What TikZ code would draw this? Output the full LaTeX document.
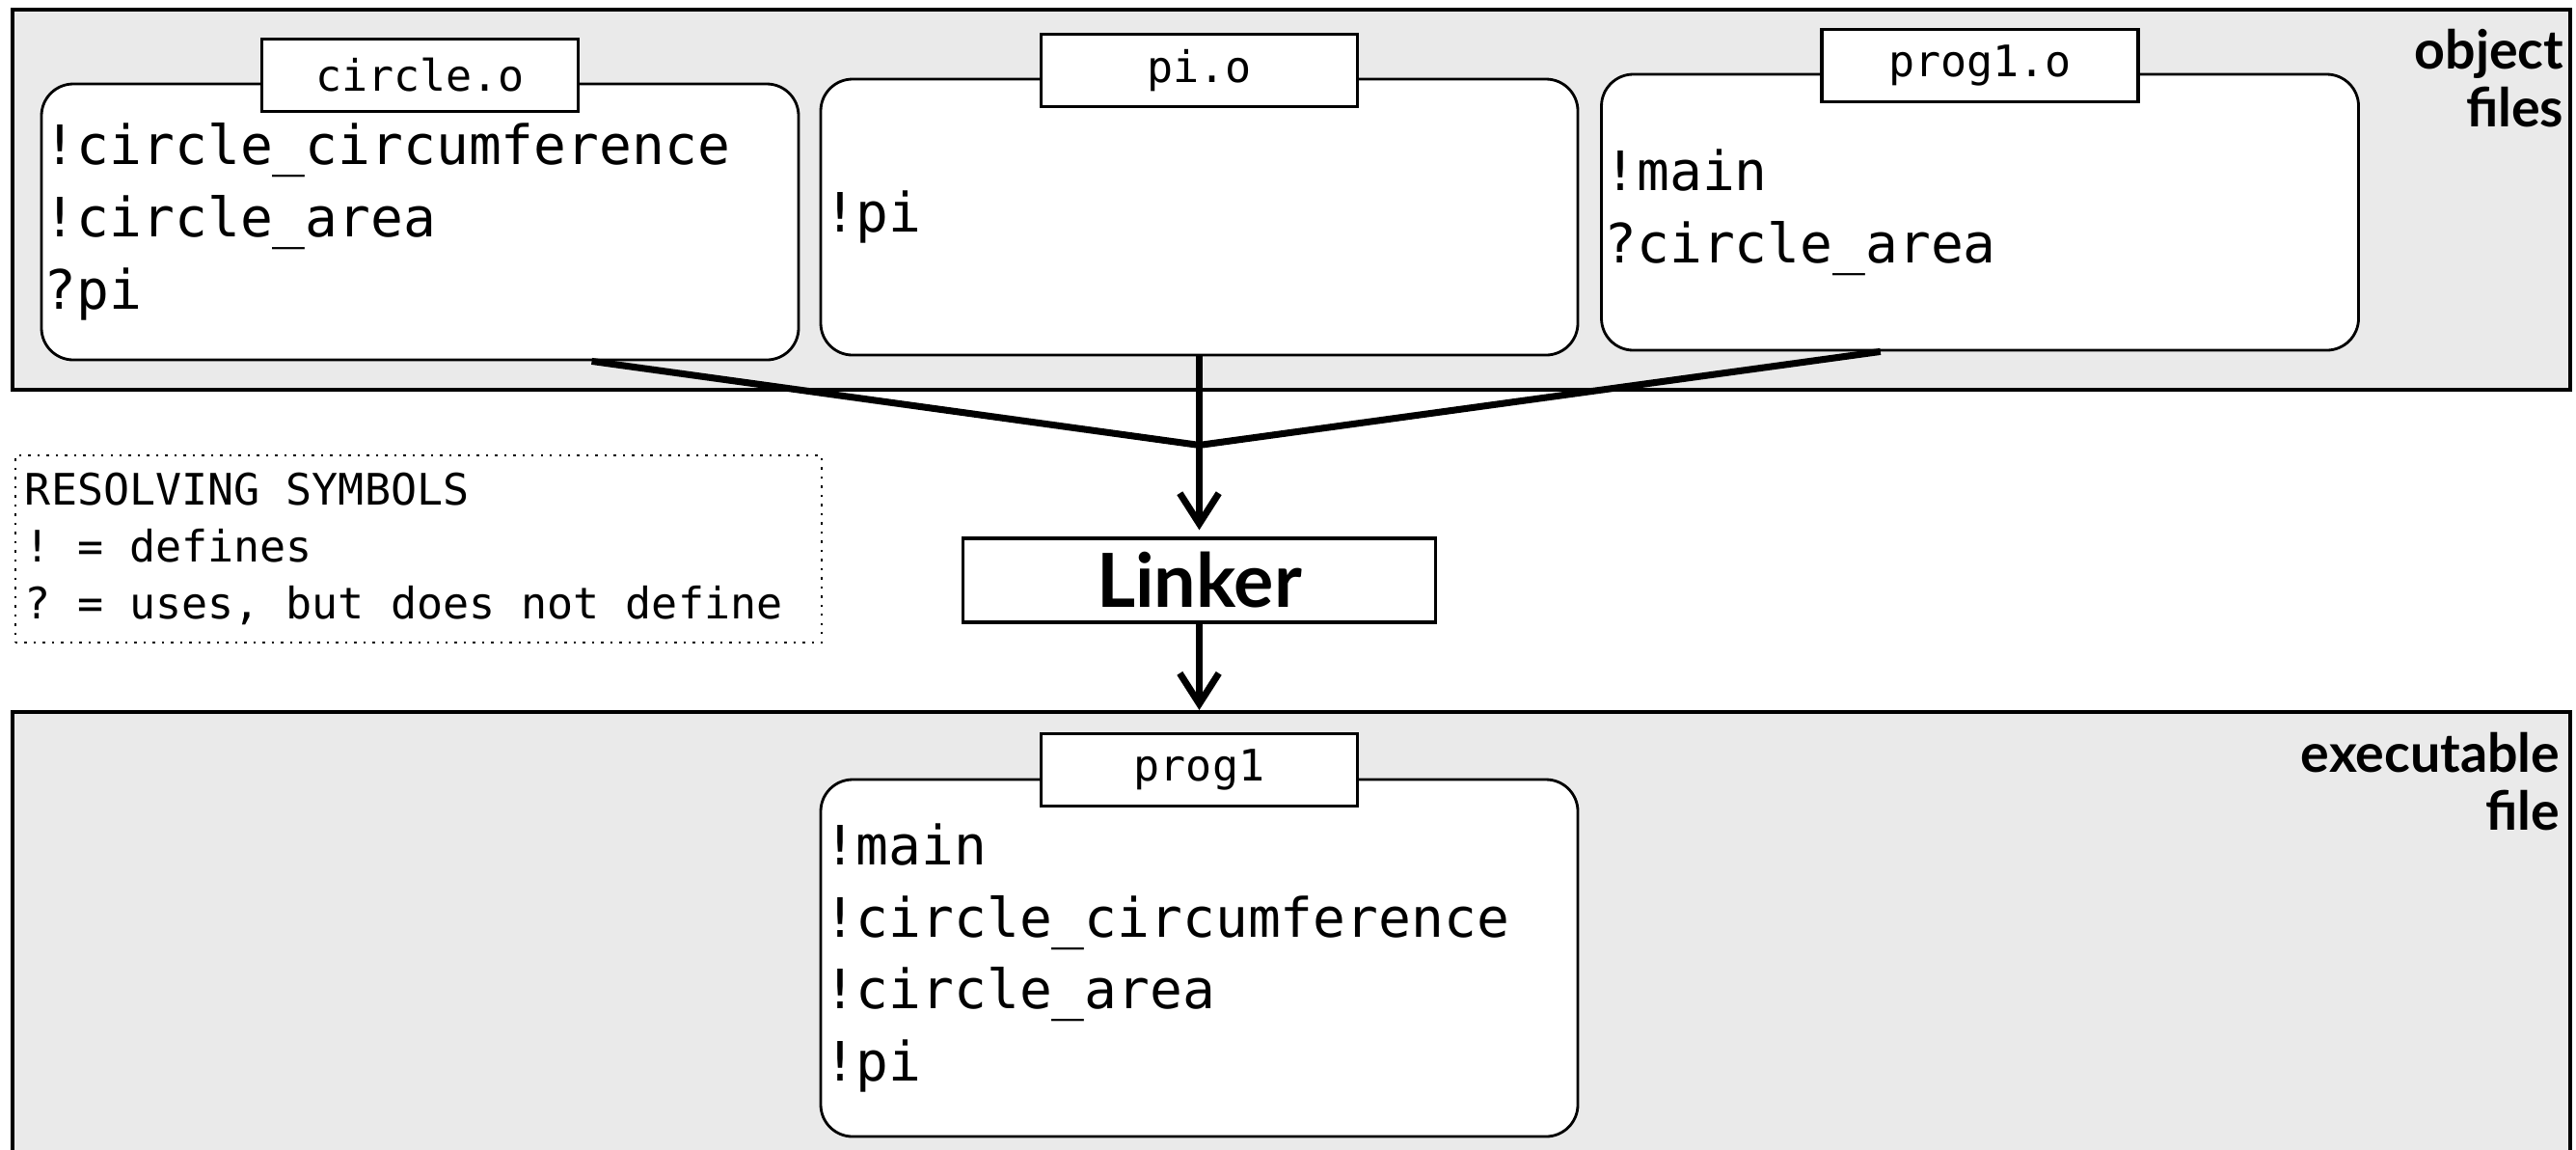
\documentclass[tikz,border=0pt]{standalone}
\usepackage{fontspec}
\setmonofont{DejaVu Sans Mono}
\setsansfont{Lato}
\usetikzlibrary{positioning, calc, arrows.meta}
\definecolor{panelgray}{RGB}{234,234,234}
\tikzset{
  panel/.style={draw, line width=0.9pt, fill=panelgray},
  objbox/.style={draw, fill=white, line width=0.8pt, rounded corners=0.33cm, align=flush left,
    text width=7.79cm, inner xsep=0.03cm, minimum height=2.86cm,
    font=\ttfamily\fontsize{16}{21.3}\selectfont},
  tab/.style={draw, fill=white, line width=0.9pt, minimum width=3.28cm, minimum height=0.75cm,
    inner sep=0pt, font=\ttfamily\fontsize{12.8}{15}\selectfont},
  feed/.style={line width=2pt},
  flow/.style={line width=2pt, -{Straight Barb[length=9pt,width=11.5pt]}},
  heading/.style={anchor=north east, align=right, inner sep=0pt,
    font=\sffamily\bfseries\fontsize{15.8}{16.9}\selectfont}
}

\begin{document}
\begin{tikzpicture}
\useasboundingbox (0,0) rectangle (26.71,-11.91);
% the two grey bands
\draw[panel] (0.13,-0.10) rectangle (26.65,-4.04);
\draw[panel] (0.13,-7.38) rectangle (26.65,-12.20);
\path (0,-7.36) coordinate (band2);
\node[heading] (objhead) at (26.59,-0.30) {object\\files};
\node[heading] (exehead) at (26.55,-7.59) {executable\\file};

% object files
\node[objbox] (circ) at (4.355,-2.30) {!circle\_circumference\\!circle\_area\\?pi};
\node[objbox] (pio)  at (12.435,-2.25) {!pi};
\node[objbox] (prgo) at (20.53,-2.20) {!main\\?circle\_area};
\node[tab, above=-0.315cm of circ.north] (circtab) {circle.o};
\node[tab, above=-0.315cm of pio.north] (piotab) {pi.o};
\node[tab, above=-0.315cm of prgo.north] (prgotab) {prog1.o};

% legend
\node[draw, dotted, line width=0.7pt, align=flush left, text width=8.16cm, inner xsep=0.1cm,
  minimum height=1.94cm, font=\ttfamily\fontsize{12.8}{16.7}\selectfont]
  (legend) at (4.34,-5.69) {RESOLVING SYMBOLS\\! = defines\\? = uses, but does not define};

% linker
\coordinate (join) at ($(pio.south)+(0,-0.92)$);
\coordinate (circout) at ($(circ.south west)!0.726!(circ.south east)$);
\coordinate (prgout) at ($(prgo.south west)!0.369!(prgo.south east)$);
\node[draw, fill=white, line width=0.9pt, minimum width=4.9cm, minimum height=0.87cm,
  font=\sffamily\bfseries\fontsize{22}{22}\selectfont, below=0.95cm of join] (lnk) {Linker};
\draw[feed] (circout) -- (join) -- (prgout);
\draw[flow, shorten >=2pt] (pio.south) -- (lnk.north);
\draw[flow] (lnk.south) -- (lnk.south |- band2);

% executable
\node[objbox, minimum height=3.70cm] (prog) at (12.435,-9.93)
  {!main\\!circle\_circumference\\!circle\_area\\!pi};
\node[tab, above=-0.305cm of prog.north] (progtab) {prog1};
\end{tikzpicture}
\end{document}
